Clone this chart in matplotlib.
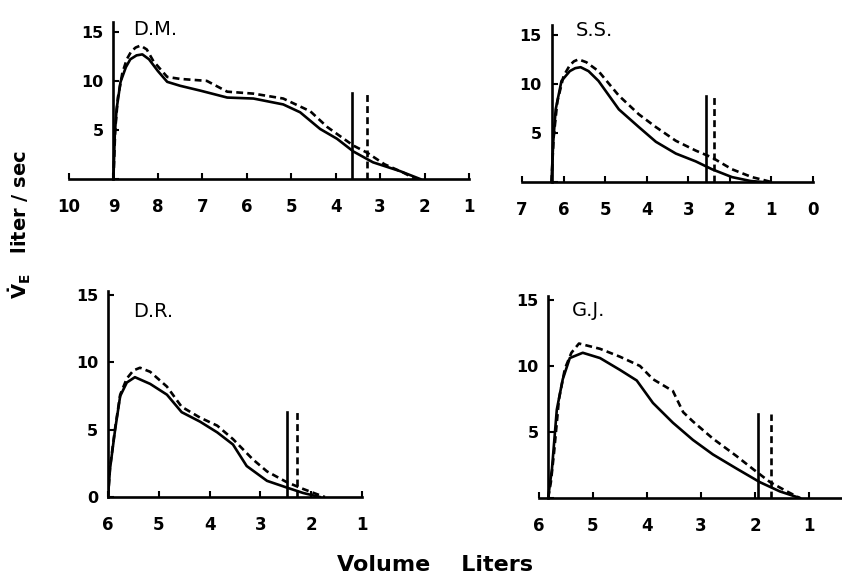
import matplotlib
matplotlib.use("Agg")
import matplotlib.pyplot as plt

# flow-volume curves, solid = control, dashed = second test
DM_VOL_SOLID  = [9.0, 8.97, 8.93, 8.84, 8.72, 8.62, 8.48, 8.35, 8.2, 8.0, 7.79, 7.5, 7.04, 6.44, 5.85, 5.18, 4.8, 4.35, 3.97, 3.6, 3.16, 2.55, 2.1]
DM_FLOW_SOLID = [0, 4.5, 7.1, 9.9, 11.4, 12.2, 12.6, 12.7, 12.2, 11.0, 9.9, 9.5, 9.0, 8.3, 8.2, 7.6, 6.8, 5.1, 4.1, 2.8, 1.7, 0.8, 0]
DM_VOL_DASH   = [9.0, 8.96, 8.9, 8.8, 8.7, 8.6, 8.5, 8.39, 8.25, 8.1, 7.79, 7.5, 6.9, 6.44, 5.85, 5.18, 4.57, 4.19, 3.6, 3.3, 2.9, 2.5, 2.2]
DM_FLOW_DASH  = [0, 5.0, 8.3, 10.8, 12.2, 13.0, 13.4, 13.6, 13.2, 12.0, 10.4, 10.2, 10.0, 8.9, 8.7, 8.2, 6.9, 5.3, 3.4, 2.7, 1.5, 0.7, 0]

SS_VOL_SOLID  = [6.29, 6.25, 6.19, 6.05, 5.85, 5.72, 5.59, 5.4, 5.16, 4.67, 4.19, 3.78, 3.3, 2.82, 2.43, 1.95, 1.5, 1.2]
SS_FLOW_SOLID = [0, 4.0, 7.4, 10.3, 11.3, 11.6, 11.7, 11.3, 10.3, 7.4, 5.6, 4.1, 2.9, 2.1, 1.3, 0.5, 0.1, 0]
SS_VOL_DASH   = [6.29, 6.24, 6.15, 6.0, 5.85, 5.75, 5.64, 5.45, 5.16, 4.67, 4.19, 3.78, 3.3, 2.82, 2.43, 1.95, 1.47, 1.0]
SS_FLOW_DASH  = [0, 4.5, 8.2, 10.8, 11.9, 12.3, 12.5, 12.2, 11.3, 8.8, 6.9, 5.6, 4.2, 3.2, 2.5, 1.3, 0.5, 0]

DR_VOL_SOLID  = [6.0, 5.96, 5.86, 5.76, 5.63, 5.47, 5.17, 4.84, 4.55, 4.19, 3.85, 3.54, 3.27, 2.87, 2.48, 2.16, 1.83]
DR_FLOW_SOLID = [0, 2.1, 5.0, 7.5, 8.5, 8.9, 8.4, 7.6, 6.3, 5.6, 4.8, 3.9, 2.3, 1.2, 0.7, 0.3, 0]
DR_VOL_DASH   = [6.0, 5.96, 5.86, 5.76, 5.63, 5.5, 5.37, 5.17, 4.84, 4.55, 4.19, 3.85, 3.54, 3.15, 2.87, 2.48, 2.16, 1.88, 1.73]
DR_FLOW_DASH  = [0, 2.2, 5.1, 7.6, 8.8, 9.4, 9.6, 9.3, 8.2, 6.7, 5.9, 5.3, 4.3, 2.8, 1.9, 1.1, 0.6, 0.2, 0]

GJ_VOL_SOLID  = [5.83, 5.8, 5.76, 5.67, 5.56, 5.43, 5.19, 4.87, 4.5, 4.19, 3.89, 3.52, 3.15, 2.78, 2.33, 1.91, 1.54, 1.17]
GJ_FLOW_SOLID = [0, 1.0, 2.2, 6.7, 9.0, 10.6, 11.0, 10.6, 9.7, 8.9, 7.2, 5.7, 4.4, 3.3, 2.2, 1.2, 0.5, 0]
GJ_VOL_DASH   = [5.83, 5.78, 5.72, 5.63, 5.52, 5.4, 5.26, 4.87, 4.5, 4.13, 3.89, 3.52, 3.33, 3.15, 2.78, 2.35, 2.04, 1.72, 1.41, 1.17]
GJ_FLOW_DASH  = [0, 1.2, 3.5, 7.5, 9.8, 11.0, 11.7, 11.3, 10.7, 10.0, 9.0, 8.1, 6.5, 5.8, 4.5, 3.2, 2.2, 1.2, 0.5, 0]

# vertical markers: (solid x, dashed x, height)
DM_MARKS = (3.63, 3.29, 8.8)
SS_MARKS = (2.58, 2.39, 8.8)
DR_MARKS = (2.48, 2.27, 6.3)
GJ_MARKS = (1.94, 1.70, 6.4)

DM_XTICKS = [10, 9, 8, 7, 6, 5, 4, 3, 2, 1]
SS_XTICKS = [7, 6, 5, 4, 3, 2, 1, 0]
DR_XTICKS = [6, 5, 4, 3, 2, 1]
GJ_XTICKS = [6, 5, 4, 3, 2, 1, 0]
Y_TICKS = [0, 5, 10, 15]

W, H = 842, 578
LW = 1.9
DASH = (0, (2.6, 1.6))


def px_axes(fig, left, right, bottom, top):
    return fig.add_axes([left / W, (H - bottom) / H, (right - left) / W, (bottom - top) / H])


def panel(ax, vs, fs, vd, fd, marks, xlim, ylim, yaxis_at, xticks, show_zero, title, title_pos):
    ax.plot(vs, fs, color="black", lw=LW, solid_joinstyle="round")
    ax.plot(vd, fd, color="black", lw=LW, ls=DASH)
    xs, xd, top = marks
    ax.plot([xs, xs], [0, top], color="black", lw=LW)
    ax.plot([xd, xd], [0, top], color="black", lw=LW, ls=DASH)

    ax.set_xlim(*xlim)
    ax.set_ylim(*ylim)
    for s in ["top", "right"]:
        ax.spines[s].set_visible(False)
    ax.spines["left"].set_position(("data", yaxis_at))
    ax.spines["left"].set_linewidth(LW)
    ax.spines["bottom"].set_linewidth(LW)
    ax.set_facecolor("none")

    ax.set_xticks(xticks)
    ax.set_xticklabels([str(t) for t in xticks], fontsize=12, fontweight="bold")
    ax.set_yticks(Y_TICKS)
    ax.set_yticklabels([str(t) if (t > 0 or show_zero) else "" for t in Y_TICKS],
                       fontsize=11.5, fontweight="bold")
    ax.tick_params(axis="x", direction="in", length=4, width=1.5, pad=14)
    ax.tick_params(axis="y", direction="in", length=4, width=1.5, pad=7)
    ax.text(title_pos[0], title_pos[1], title, fontsize=14, ha="left", va="top")


fig = plt.figure(figsize=(W / 100, H / 100), dpi=100)

ax1 = px_axes(fig, 69, 469, 179, 22)
panel(ax1, DM_VOL_SOLID, DM_FLOW_SOLID, DM_VOL_DASH, DM_FLOW_DASH, DM_MARKS,
      (10, 1), (0, 16), 9.0, DM_XTICKS, False, "D.M.", (8.55, 16.2))

ax2 = px_axes(fig, 522, 813, 182, 25)
panel(ax2, SS_VOL_SOLID, SS_FLOW_SOLID, SS_VOL_DASH, SS_FLOW_DASH, SS_MARKS,
      (7, 0), (0, 16), 6.29, SS_XTICKS, False, "S.S.", (5.71, 16.4))

ax3 = px_axes(fig, 108, 362, 497, 291)
panel(ax3, DR_VOL_SOLID, DR_FLOW_SOLID, DR_VOL_DASH, DR_FLOW_DASH, DR_MARKS,
      (6, 1), (0, 15.3), 6.0, DR_XTICKS, True, "D.R.", (5.51, 14.5))

ax4 = px_axes(fig, 539, 863, 498, 296)
panel(ax4, GJ_VOL_SOLID, GJ_FLOW_SOLID, GJ_VOL_DASH, GJ_FLOW_DASH, GJ_MARKS,
      (6, 0), (0, 15.3), 5.83, GJ_XTICKS, False, "G.J.", (5.39, 14.9))

fig.text(20 / W, 1 - 225 / H, r"$\mathbf{\dot{V}_E}$   liter / sec", rotation=90,
         ha="center", va="center", fontsize=14, fontweight="bold")
fig.text(435 / W, 1 - 565 / H, "Volume    Liters", ha="center", va="center",
         fontsize=16, fontweight="bold")

fig.savefig("out.png", dpi=100)
